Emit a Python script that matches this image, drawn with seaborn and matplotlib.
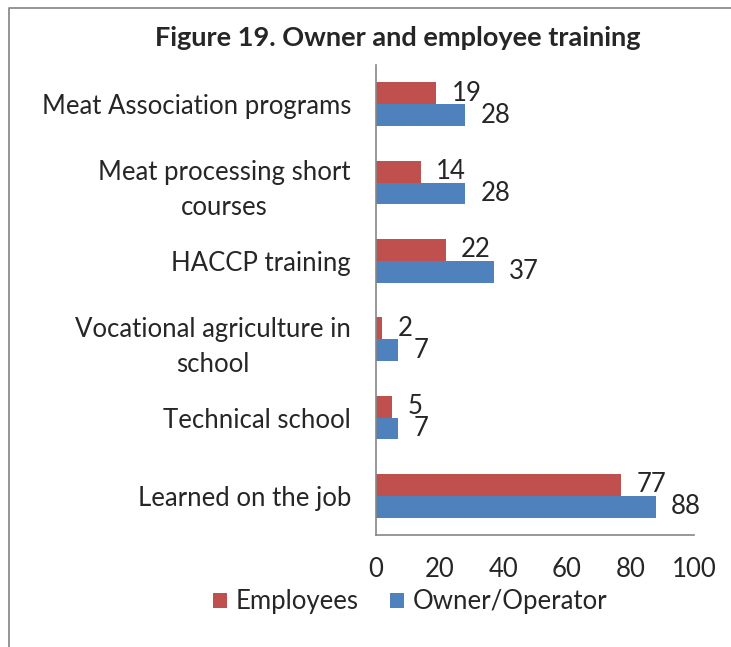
import pandas as pd
import matplotlib.pyplot as plt
import seaborn as sns
from matplotlib.lines import Line2D

categories = ['Meat Association programs', 'Meat processing short\ncourses', 'HACCP training',
              'Vocational agriculture in\nschool', 'Technical school', 'Learned on the job']
employees = [19, 14, 22, 2, 5, 77]
owners = [28, 28, 37, 7, 7, 88]
series = ['Employees', 'Owner/Operator']
colors = ['#C0504D', '#4F81BD']
xticks = [0, 20, 40, 60, 80, 100]

df = pd.DataFrame({
    'training': categories * 2,
    'value': employees + owners,
    'who': [series[0]] * len(categories) + [series[1]] * len(categories),
})

sns.set_style('white')
plt.rcParams['font.family'] = ['Lato', 'DejaVu Sans']
fs = 18.5

fig = plt.figure(figsize=(7.31, 6.47), dpi=100)
ax = fig.add_axes([376 / 731, 1 - 535 / 647, 318 / 731, 470 / 647])

sns.barplot(data=df, y='training', x='value', hue='who', hue_order=series,
            order=categories, palette=colors, width=0.56, orient='h',
            saturation=1, linewidth=0, ax=ax)

# value labels just past the end of each bar
for cont in ax.containers:
    for bar in cont:
        w = bar.get_width()
        ax.annotate(f'{w:.0f}', (w, bar.get_y() + bar.get_height() / 2),
                    xytext=(11, 0), textcoords='offset points',
                    ha='left', va='center', fontsize=fs)

ax.set_xlim(0, 100)
ax.set_ylim(5.5, -0.5)
ax.set_xticks(xticks)
ax.set_yticks(range(len(categories)))
ax.set_yticklabels(categories, multialignment='center', linespacing=1.5)
ax.set_yticks([i - 0.5 for i in range(len(categories) + 1)], minor=True)
ax.tick_params(axis='y', which='major', length=0, pad=18, labelsize=fs)
ax.tick_params(axis='y', which='minor', length=6, width=1.2, color='#868686', direction='out')
ax.tick_params(axis='x', length=6, width=1.2, color='#868686', direction='out', pad=10, labelsize=fs)
ax.set_xlabel(None)
ax.set_ylabel(None)

for s in ['top', 'right']:
    ax.spines[s].set_visible(False)
for s in ['left', 'bottom']:
    ax.spines[s].set_color('#868686')
    ax.spines[s].set_linewidth(1.2)

ax.legend(loc='center', bbox_to_anchor=(410 / 731, 1 - 602 / 647),
          bbox_transform=fig.transFigure, ncol=2, frameon=False, fontsize=fs,
          handlelength=0.55, handleheight=0.55, handletextpad=0.35, columnspacing=1.2)

fig.text(398 / 731, 1 - 38 / 647, 'Figure 19. Owner and employee training',
         ha='center', va='center', fontsize=19.5, fontweight='bold')

# chart area border (cut off on right/bottom in the reference)
fig.add_artist(Line2D([9 / 731, 9 / 731, 1.0], [0.0, 1 - 8 / 647, 1 - 8 / 647],
                      transform=fig.transFigure, color='#8c8c8c', linewidth=1.3))

fig.savefig('out.png', dpi=100)
